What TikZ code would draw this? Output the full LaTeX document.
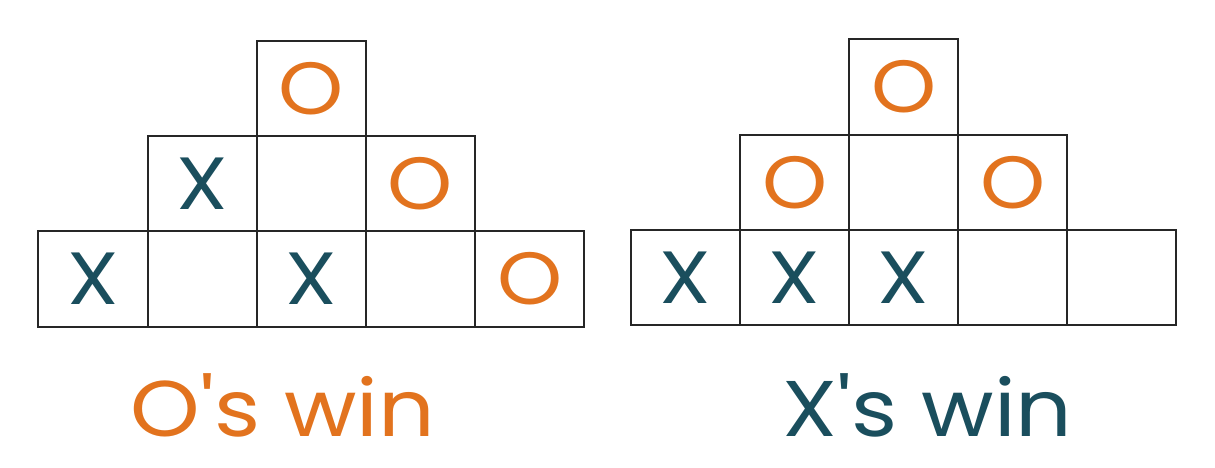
\documentclass[tikz,border=0pt]{standalone}
\usepackage{fontspec}
\setmainfont{Poppins}[FakeStretch=1.12, Ligatures=TeXOff]
\definecolor{oorange}{HTML}{E2731E}
\definecolor{xteal}{HTML}{1A4E5D}
\tikzset{
  cell/.style={draw=black!85, line width=2pt, inner sep=0pt, outer sep=0pt,
    minimum width=109.2pt, minimum height=95.33pt,
    font=\fontsize{74}{80}\selectfont},
  xmark/.style={text=xteal},
  omark/.style={text=oorange},
  lbl/.style={anchor=base, inner sep=0pt, font=\fontsize{79}{90}\selectfont}
}
\begin{document}
\begin{tikzpicture}[x=1pt,y=-1pt]
\useasboundingbox (0,0) rectangle (1215,468);
% left grid: O's win
\node[cell,omark] (l11) at (311.3,88.4) {O};
\node[cell,xmark] (l21) at (202.1,183.7) {X};
\node[cell] (l22) at (311.3,183.7) {};
\node[cell,omark] (l23) at (420.5,183.7) {O};
\node[cell,xmark] (l31) at (92.9,279.0) {X};
\node[cell] (l32) at (202.1,279.0) {};
\node[cell,xmark] (l33) at (311.3,279.0) {X};
\node[cell] (l34) at (420.5,279.0) {};
\node[cell,omark] (l35) at (529.7,279.0) {O};
\node[lbl,text=oorange] (lt) at (283,436) {O's win};
% right grid: X's win
\node[cell,omark] (r11) at (903.7,87.0) {O};
\node[cell,omark] (r21) at (794.6,182.3) {O};
\node[cell] (r22) at (903.7,182.3) {};
\node[cell,omark] (r23) at (1012.7,182.3) {O};
\node[cell,xmark] (r31) at (685.5,277.6) {X};
\node[cell,xmark] (r32) at (794.6,277.6) {X};
\node[cell,xmark] (r33) at (903.7,277.6) {X};
\node[cell] (r34) at (1012.7,277.6) {};
\node[cell] (r35) at (1121.8,277.6) {};
\node[lbl,text=xteal] (rt) at (927.5,436) {X's win};
\end{tikzpicture}
\end{document}
